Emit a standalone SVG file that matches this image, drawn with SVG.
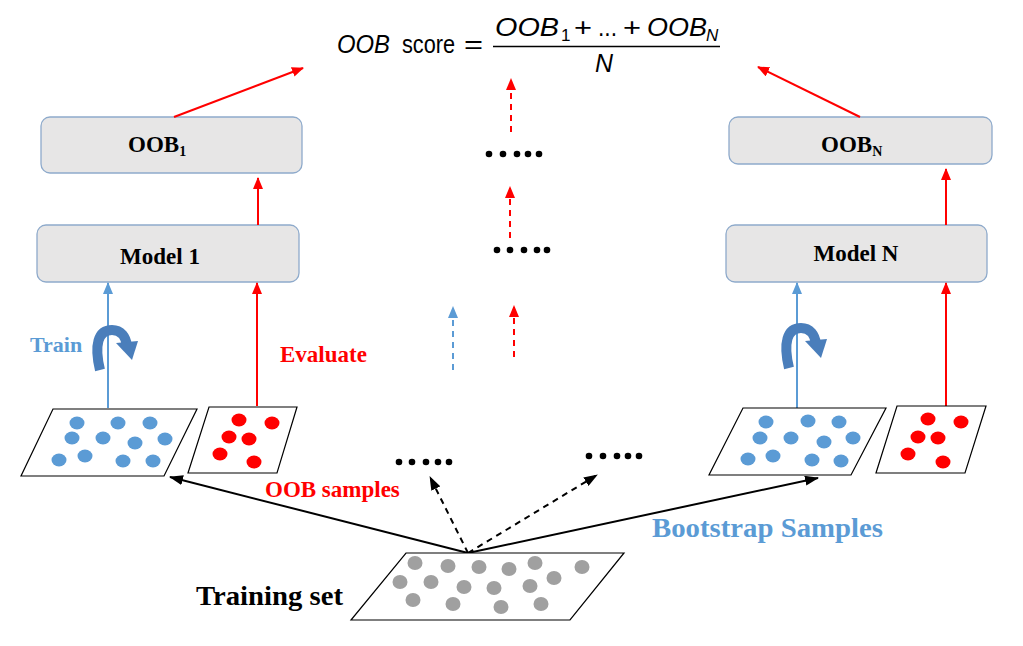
<svg xmlns="http://www.w3.org/2000/svg" width="1023" height="646" viewBox="0 0 1023 646">
<style>
.box{fill:#e7e6e6;stroke:#8eaacb;stroke-width:1.3}
.lbl{font-family:"Liberation Serif","Times New Roman",serif;font-weight:bold}
.math{font-family:"Liberation Sans",Arial,sans-serif;font-size:26px;fill:#000}
.sub{font-family:"Liberation Sans",Arial,sans-serif;font-size:17px;fill:#000}
.it{font-style:italic}
.par{fill:#fff;stroke:#000;stroke-width:1.2}
.bd{fill:#5b9bd5}
.rd{fill:#ff0000}
.gd{fill:#a0a0a0}
.dot{fill:#000}
.red{stroke:#ff0000;stroke-width:2;fill:none}
.blue{stroke:#5b9bd5;stroke-width:2;fill:none}
.blk{stroke:#000;stroke-width:2;fill:none}
.dash{stroke-dasharray:6,5}
.curl{fill:none;stroke:#4a7ebb;stroke-width:10}
</style>
<defs>
<marker id="ar" viewBox="0 0 12 10" refX="11" refY="5" markerWidth="12" markerHeight="10" markerUnits="userSpaceOnUse" orient="auto"><path d="M0,0 L12,5 L0,10 z" fill="#ff0000"/></marker>
<marker id="ab" viewBox="0 0 12 10" refX="11" refY="5" markerWidth="12" markerHeight="10" markerUnits="userSpaceOnUse" orient="auto"><path d="M0,0 L12,5 L0,10 z" fill="#5b9bd5"/></marker>
<marker id="ak" viewBox="0 0 14 10" refX="13" refY="5" markerWidth="14" markerHeight="10" markerUnits="userSpaceOnUse" orient="auto"><path d="M0,0 L14,5 L0,10 z" fill="#000"/></marker>
<g id="curlshape">
<path class="curl" d="M100,370 C94,345 98,330 112,330 C121,330 126,337 127,346"/>
<polygon points="116,343 138,341 132,360" fill="#4a7ebb"/>
</g>
</defs>

<g id="formula">
<text class="math it" x="337" y="53" textLength="53" lengthAdjust="spacingAndGlyphs">OOB</text>
<text class="math" x="402" y="53" textLength="53" lengthAdjust="spacingAndGlyphs">score</text>
<text class="math" x="464" y="53" textLength="19" lengthAdjust="spacingAndGlyphs">=</text>
<text class="math it" x="495" y="36" textLength="64" lengthAdjust="spacingAndGlyphs">OOB</text>
<text class="sub" x="561" y="41">1</text>
<text class="math" x="574" y="36" textLength="18" lengthAdjust="spacingAndGlyphs">+</text>
<text class="math" x="598" y="36" textLength="19" lengthAdjust="spacingAndGlyphs">...</text>
<text class="math" x="623" y="36" textLength="18" lengthAdjust="spacingAndGlyphs">+</text>
<text class="math it" x="647" y="36" textLength="60" lengthAdjust="spacingAndGlyphs">OOB</text>
<text class="sub it" x="706" y="41">N</text>
<line x1="493" y1="46.5" x2="720" y2="46.5" stroke="#000" stroke-width="1.3"/>
<text class="math it" x="595" y="72" textLength="18" lengthAdjust="spacingAndGlyphs">N</text>
</g>

<g id="oob1"><rect class="box" x="41" y="117" width="261" height="56" rx="9"/>
<text class="lbl" x="128" y="152" font-size="23">OOB<tspan font-size="14" dy="4">1</tspan></text></g>
<g id="model1"><rect class="box" x="37" y="225" width="262" height="57" rx="9"/>
<text class="lbl" x="160" y="264" font-size="23" text-anchor="middle">Model 1</text></g>
<g id="oobN"><rect class="box" x="729" y="117" width="263" height="47" rx="9"/>
<text class="lbl" x="821" y="152" font-size="23">OOB<tspan font-size="14" dy="4">N</tspan></text></g>
<g id="modelN"><rect class="box" x="726" y="225" width="261" height="57" rx="9"/>
<text class="lbl" x="856" y="261" font-size="23" text-anchor="middle">Model N</text></g>

<g id="labels">
<text class="lbl" x="30" y="352" font-size="22" fill="#5b9bd5">Train</text>
<text class="lbl" x="280" y="362" font-size="23" fill="#ff0000">Evaluate</text>
<text class="lbl" x="265" y="497" font-size="23" fill="#ff0000">OOB samples</text>
<text class="lbl" x="652" y="537" font-size="28" fill="#5b9bd5" textLength="231" lengthAdjust="spacingAndGlyphs">Bootstrap Samples</text>
<text class="lbl" x="196" y="605" font-size="28" fill="#000" textLength="147" lengthAdjust="spacingAndGlyphs">Training set</text>
</g>

<g id="connectors">
<line class="blue" x1="108" y1="408" x2="108" y2="283" marker-end="url(#ab)"/>
<line class="red" x1="257" y1="406" x2="257" y2="283" marker-end="url(#ar)"/>
<line class="blue" x1="797" y1="408" x2="797" y2="283" marker-end="url(#ab)"/>
<line class="red" x1="946" y1="406" x2="946" y2="283" marker-end="url(#ar)"/>
<line class="red" x1="258" y1="225" x2="258" y2="178" marker-end="url(#ar)"/>
<line class="red" x1="946" y1="225" x2="946" y2="169" marker-end="url(#ar)"/>
<line class="red" x1="174" y1="117" x2="303" y2="68" marker-end="url(#ar)"/>
<line class="red" x1="860" y1="117" x2="758" y2="67" marker-end="url(#ar)"/>
<line class="red dash" x1="511" y1="132" x2="511" y2="79" marker-end="url(#ar)"/>
<line class="red dash" x1="510" y1="238" x2="510" y2="187" marker-end="url(#ar)"/>
<line class="red dash" x1="514" y1="357" x2="514" y2="306" marker-end="url(#ar)"/>
<line class="blue dash" x1="453" y1="370" x2="453" y2="307" stroke-dasharray="4,3" marker-end="url(#ab)"/>
<line class="blk" x1="468" y1="553" x2="170" y2="477" marker-end="url(#ak)"/>
<line class="blk" x1="468" y1="553" x2="818" y2="478" marker-end="url(#ak)"/>
<line class="blk dash" x1="468" y1="553" x2="430" y2="477" marker-end="url(#ak)"/>
<line class="blk dash" x1="468" y1="553" x2="597" y2="475" marker-end="url(#ak)"/>
</g>

<g id="curl1"><use href="#curlshape"/></g>
<g id="curl2"><use href="#curlshape" transform="translate(689,-2)"/></g>

<g id="ellipses">
<circle class="dot" cx="489" cy="154" r="3.3"/><circle class="dot" cx="503" cy="154" r="3.3"/><circle class="dot" cx="517" cy="154" r="3.3"/><circle class="dot" cx="528" cy="154" r="3.3"/><circle class="dot" cx="539" cy="154" r="3.3"/>
<circle class="dot" cx="497" cy="250" r="3.3"/><circle class="dot" cx="510" cy="250" r="3.3"/><circle class="dot" cx="524" cy="250" r="3.3"/><circle class="dot" cx="537" cy="250" r="3.3"/><circle class="dot" cx="547" cy="250" r="3.3"/>
<circle class="dot" cx="399" cy="462" r="3.3"/><circle class="dot" cx="412" cy="462" r="3.3"/><circle class="dot" cx="426" cy="462" r="3.3"/><circle class="dot" cx="438" cy="462" r="3.3"/><circle class="dot" cx="449" cy="462" r="3.3"/>
<circle class="dot" cx="589" cy="456" r="3.3"/><circle class="dot" cx="603" cy="456" r="3.3"/><circle class="dot" cx="617" cy="456" r="3.3"/><circle class="dot" cx="628" cy="456" r="3.3"/><circle class="dot" cx="639" cy="456" r="3.3"/>
</g>

<g id="boot1">
<polygon class="par" points="53,409 197,409 164,476 21,476"/>
<ellipse class="bd" cx="77" cy="423" rx="7.5" ry="6.5"/><ellipse class="bd" cx="118" cy="423" rx="7.5" ry="6.5"/><ellipse class="bd" cx="150" cy="423" rx="7.5" ry="6.5"/>
<ellipse class="bd" cx="72" cy="438" rx="7.5" ry="6.5"/><ellipse class="bd" cx="103" cy="438" rx="7.5" ry="6.5"/><ellipse class="bd" cx="135" cy="443" rx="7.5" ry="6.5"/><ellipse class="bd" cx="165" cy="439" rx="7.5" ry="6.5"/>
<ellipse class="bd" cx="59" cy="460" rx="7.5" ry="6.5"/><ellipse class="bd" cx="85" cy="456" rx="7.5" ry="6.5"/><ellipse class="bd" cx="123" cy="461" rx="7.5" ry="6.5"/><ellipse class="bd" cx="153" cy="461" rx="7.5" ry="6.5"/>
</g>
<g id="oobs1">
<polygon class="par" points="209,407 297,407 277,473 188,473"/>
<ellipse class="rd" cx="239" cy="420" rx="7.5" ry="6.5"/><ellipse class="rd" cx="272" cy="423" rx="7.5" ry="6.5"/>
<ellipse class="rd" cx="229" cy="437" rx="7.5" ry="6.5"/><ellipse class="rd" cx="249" cy="439" rx="7.5" ry="6.5"/>
<ellipse class="rd" cx="220" cy="454" rx="7.5" ry="6.5"/><ellipse class="rd" cx="254" cy="462" rx="7.5" ry="6.5"/>
</g>
<g id="bootN">
<polygon class="par" points="743,408 886,408 851,475 709,475"/>
<ellipse class="bd" cx="766" cy="422" rx="7.5" ry="6.5"/><ellipse class="bd" cx="808" cy="421" rx="7.5" ry="6.5"/><ellipse class="bd" cx="839" cy="422" rx="7.5" ry="6.5"/>
<ellipse class="bd" cx="760" cy="438" rx="7.5" ry="6.5"/><ellipse class="bd" cx="791" cy="438" rx="7.5" ry="6.5"/><ellipse class="bd" cx="824" cy="442" rx="7.5" ry="6.5"/><ellipse class="bd" cx="853" cy="438" rx="7.5" ry="6.5"/>
<ellipse class="bd" cx="748" cy="459" rx="7.5" ry="6.5"/><ellipse class="bd" cx="773" cy="456" rx="7.5" ry="6.5"/><ellipse class="bd" cx="812" cy="460" rx="7.5" ry="6.5"/><ellipse class="bd" cx="841" cy="461" rx="7.5" ry="6.5"/>
</g>
<g id="oobsN">
<polygon class="par" points="897,406 986,406 965,473 876,473"/>
<ellipse class="rd" cx="928" cy="419" rx="7.5" ry="6.5"/><ellipse class="rd" cx="961" cy="422" rx="7.5" ry="6.5"/>
<ellipse class="rd" cx="918" cy="437" rx="7.5" ry="6.5"/><ellipse class="rd" cx="938" cy="438" rx="7.5" ry="6.5"/>
<ellipse class="rd" cx="908" cy="454" rx="7.5" ry="6.5"/><ellipse class="rd" cx="943" cy="462" rx="7.5" ry="6.5"/>
</g>
<g id="trainingset">
<polygon class="par" points="406,553 624,553 570,620 351,620"/>
<ellipse class="gd" cx="415" cy="563" rx="7.5" ry="7"/><ellipse class="gd" cx="448" cy="566" rx="7.5" ry="7"/><ellipse class="gd" cx="479" cy="567" rx="7.5" ry="7"/><ellipse class="gd" cx="509" cy="569" rx="7.5" ry="7"/><ellipse class="gd" cx="535" cy="563" rx="7.5" ry="7"/><ellipse class="gd" cx="582" cy="567" rx="7.5" ry="7"/>
<ellipse class="gd" cx="400" cy="582" rx="7.5" ry="7"/><ellipse class="gd" cx="431" cy="582" rx="7.5" ry="7"/><ellipse class="gd" cx="464" cy="587" rx="7.5" ry="7"/><ellipse class="gd" cx="494" cy="588" rx="7.5" ry="7"/><ellipse class="gd" cx="530" cy="586" rx="7.5" ry="7"/><ellipse class="gd" cx="554" cy="578" rx="7.5" ry="7"/>
<ellipse class="gd" cx="413" cy="600" rx="7.5" ry="7"/><ellipse class="gd" cx="453" cy="604" rx="7.5" ry="7"/><ellipse class="gd" cx="501" cy="607" rx="7.5" ry="7"/><ellipse class="gd" cx="541" cy="604" rx="7.5" ry="7"/>
</g>
</svg>
